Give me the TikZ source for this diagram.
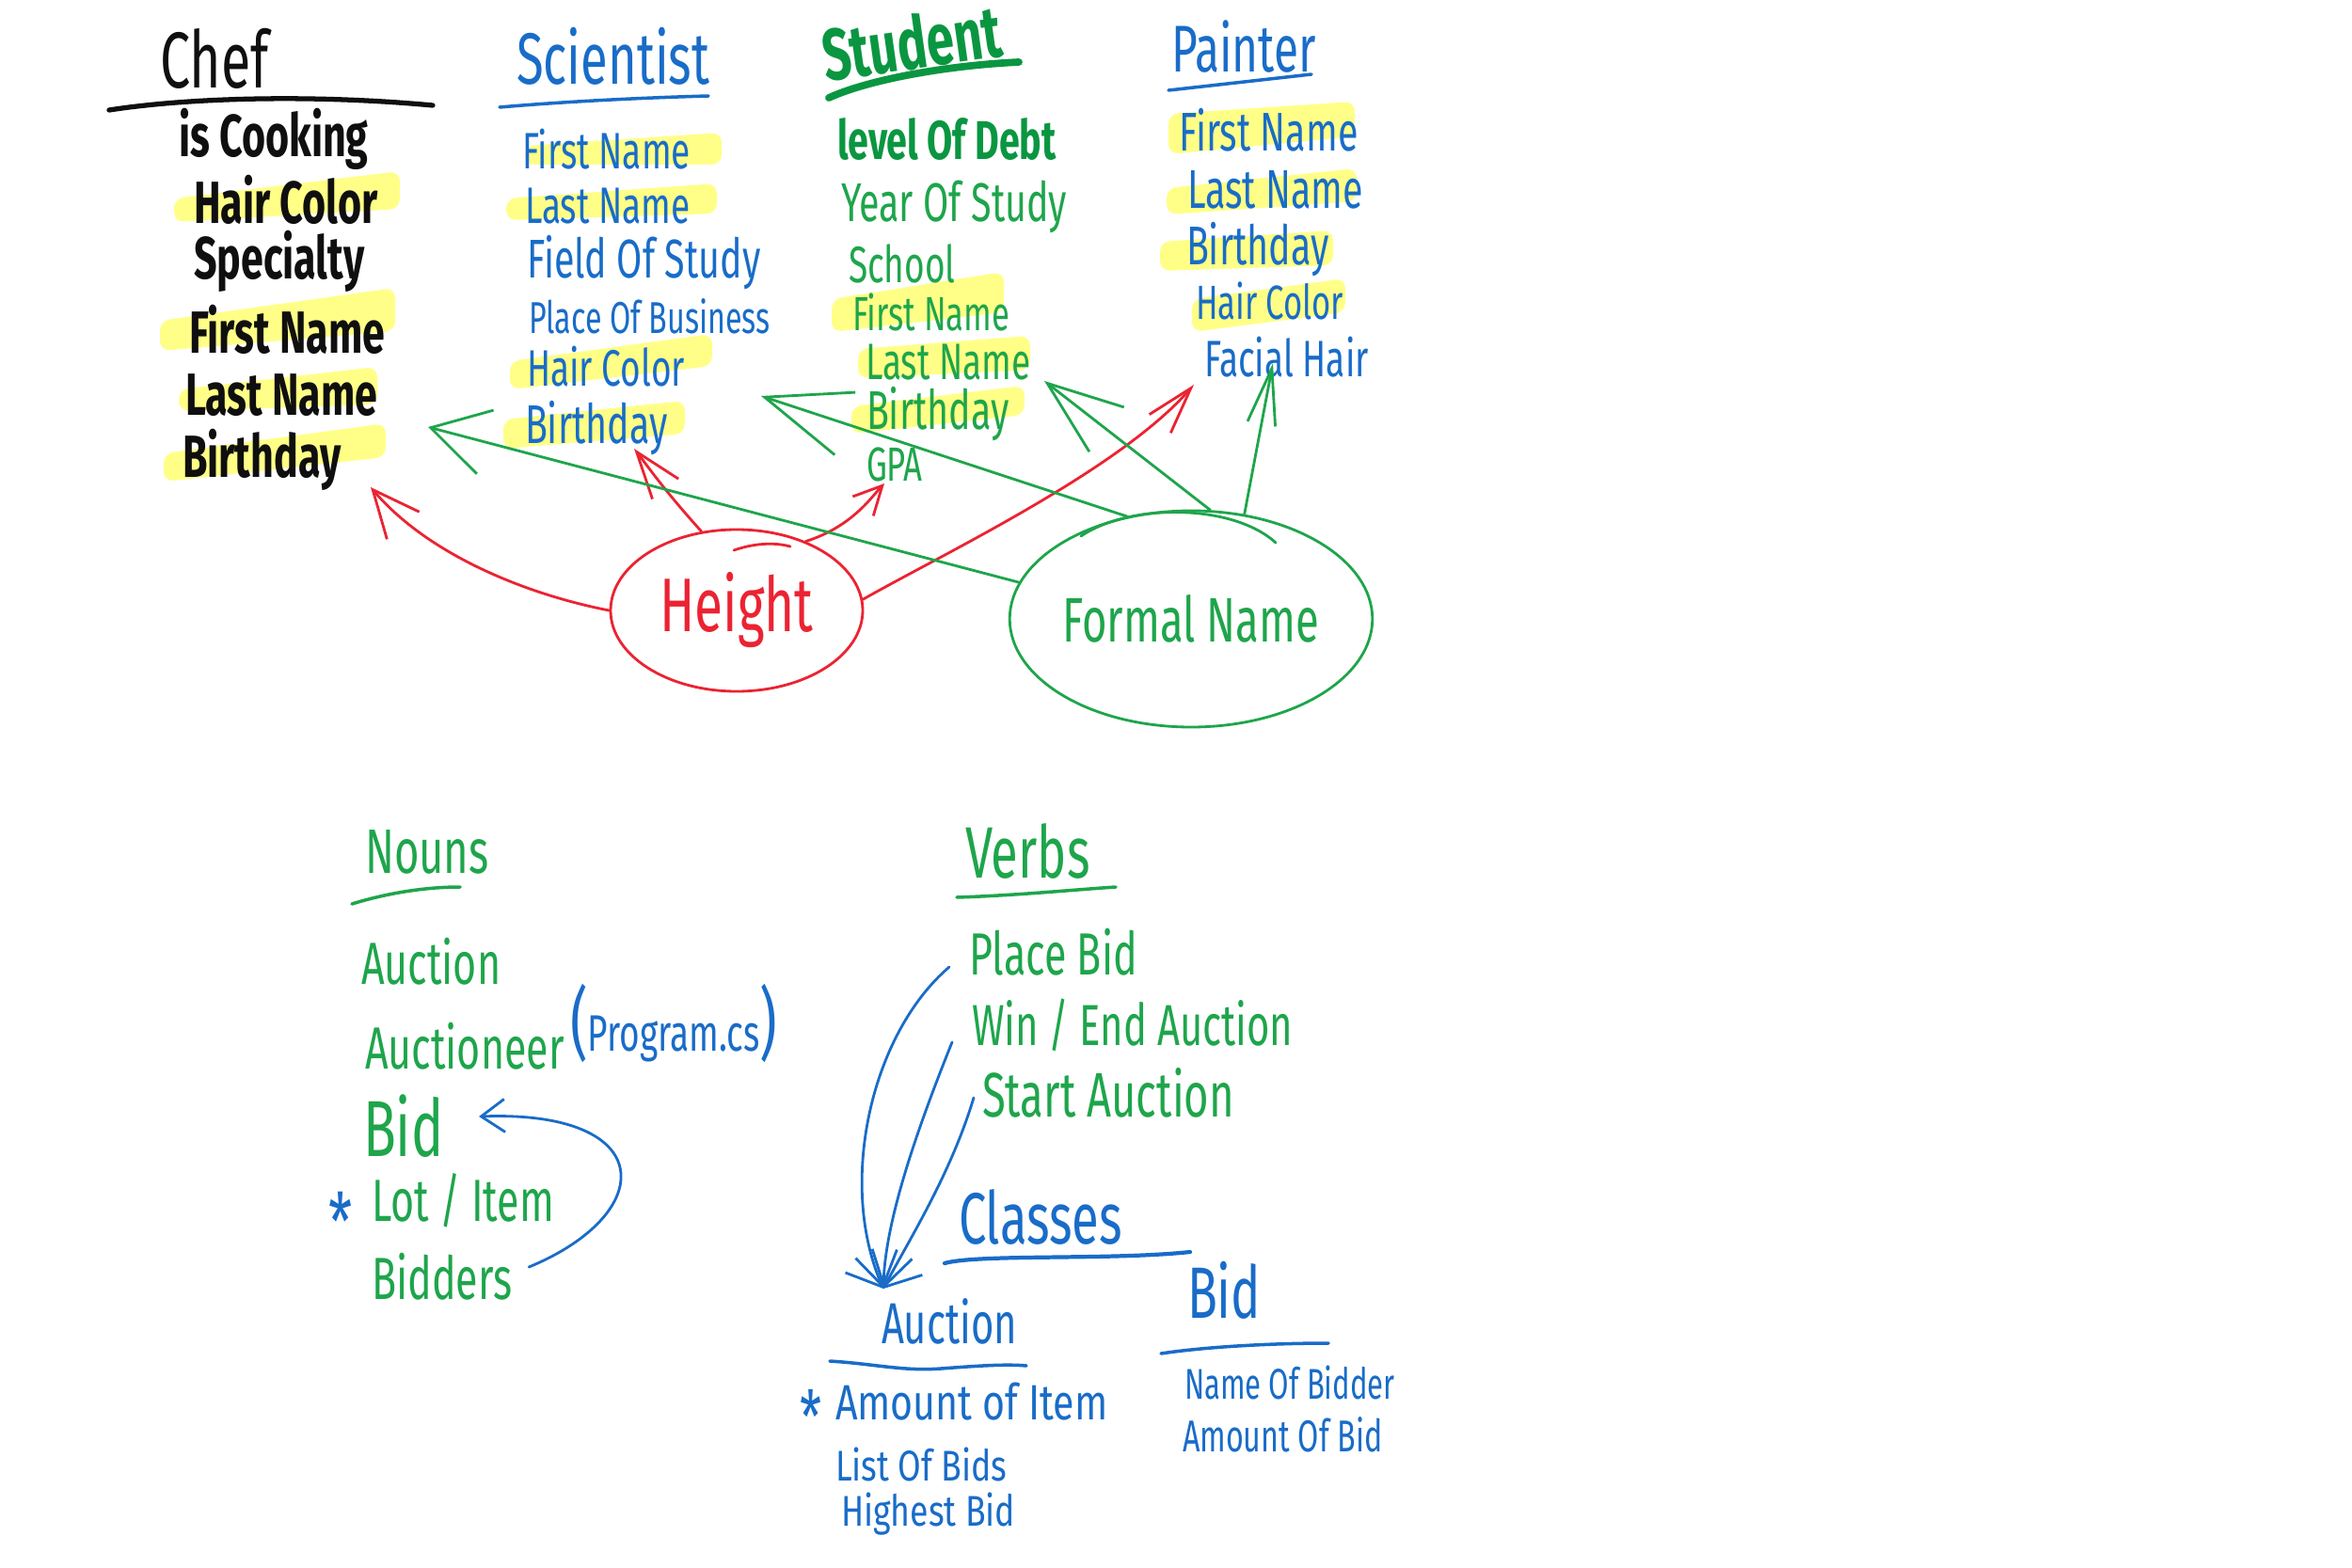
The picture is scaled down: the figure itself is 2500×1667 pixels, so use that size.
\documentclass[tikz,border=0pt]{standalone}
\usepackage{fontspec}
\setmainfont{Fira Sans}[FakeStretch=0.68]
\newfontfamily\widefont{Fira Sans}[FakeStretch=0.78]
\usetikzlibrary{shapes.geometric,arrows.meta,calc}
\definecolor{ink}{RGB}{15,15,15}
\definecolor{bl}{RGB}{25,108,200}
\definecolor{gr}{RGB}{30,165,75}
\definecolor{dg}{RGB}{10,150,65}
\definecolor{rd}{RGB}{235,35,50}
\definecolor{hly}{RGB}{255,255,135}
\newcommand\myfs[1]{\fontsize{#1}{#1}\selectfont}
\tikzset{
  lbl/.style={inner sep=0pt, outer sep=0pt, anchor=west},
  kt/.style={lbl, text=ink, font=\myfs{24}},
  ki/.style={lbl, text=ink, font=\bfseries\myfs{18}},
  bt/.style={lbl, text=bl, font=\myfs{22}},
  bi/.style={lbl, text=bl, font=\myfs{16.5}},
  bw/.style={lbl, text=bl},
  gt/.style={lbl, text=dg, font=\bfseries\myfs{22}},
  gT/.style={lbl, text=gr, font=\myfs{22}},
  gi/.style={lbl, text=gr, font=\myfs{16.5}},
  gb/.style={lbl, text=gr, font=\myfs{18}},
  hl/.style={fill=hly, rounded corners=3pt},
  pen/.style={line width=0.8pt, line cap=round, line join=round},
  redpen/.style={pen, draw=rd},
  grpen/.style={pen, draw=gr},
  blpen/.style={pen, draw=bl},
  ring/.style={ellipse, draw, line width=0.8pt, inner sep=0pt},
}
\begin{document}
\begin{tikzpicture}[x=0.1mm,y=-0.1mm]
\useasboundingbox (0,0) rectangle (2500,1667);
\fill[white] (0,0) rectangle (2500,1667);

% ---------- highlights ----------
\fill[hl] (185,211) -- (425,182) -- (425,222) -- (185,236) -- cycle;
\fill[hl] (170,341) -- (420,306) -- (420,352) -- (170,373) -- cycle;
\fill[hl] (190,414) -- (401,390) -- (401,430) -- (190,437) -- cycle;
\fill[hl] (174,482) -- (410,450) -- (410,486) -- (174,512) -- cycle;
\fill[hl] (558,155) -- (767,141) -- (767,175) -- (558,175) -- cycle;
\fill[hl] (538,211) -- (762,195) -- (762,227) -- (538,234) -- cycle;
\fill[hl] (542,384) -- (757,355) -- (757,389) -- (542,414) -- cycle;
\fill[hl] (535,446) -- (728,426) -- (728,461) -- (535,477) -- cycle;
\fill[hl] (884,318) -- (1067,289) -- (1067,332) -- (884,353) -- cycle;
\fill[hl] (912,371) -- (1095,357) -- (1095,393) -- (912,402) -- cycle;
\fill[hl] (905,432) -- (1089,410) -- (1089,441) -- (905,461) -- cycle;
\fill[hl] (1242,121) -- (1440,108) -- (1440,145) -- (1242,164) -- cycle;
\fill[hl] (1240,200) -- (1442,179) -- (1442,214) -- (1240,228) -- cycle;
\fill[hl] (1233,257) -- (1417,245) -- (1417,282) -- (1233,288) -- cycle;
\fill[hl] (1267,318) -- (1430,296) -- (1430,332) -- (1267,353) -- cycle;

% ---------- Chef ----------
\node[kt] (chef) at (170,62) {Chef};
\draw[ink, line width=1.5pt, line cap=round] (116,117) .. controls (200,104) and (330,100) .. (460,112);
\node[ki] (c1) at (190,148) {is Cooking};
\node[ki] (c2) at (206,212) {Hair Color};
\node[ki] (c3) at (206,278) {Specialty};
\node[ki] (c4) at (201,350) {First Name};
\node[ki] (c5) at (197,420) {Last Name};
\node[ki] (c6) at (194,489) {Birthday};

% ---------- Scientist ----------
\node[bt] (sci) at (549,60) {Scientist};
\draw[bl, line width=1pt, line cap=round] (531,114) .. controls (600,108) and (680,104) .. (753,102);
\node[bi, font=\myfs{15.5}] (s1) at (555,159) {First Name};
\node[bi, font=\myfs{15.5}] (s2) at (558,219) {Last Name};
\node[bi] (s3) at (560,279) {Field Of Study};
\node[bi, font=\myfs{13.5}] (s4) at (562,336) {Place Of Business};
\node[bi, font=\myfs{15.5}] (s5) at (560,390) {Hair Color};
\node[bi] (s6) at (558,455) {Birthday};

% ---------- Student ----------
\node[gt, rotate=8] (stu) at (874,58) {Student};
\draw[dg, line width=2.2pt, line cap=round] (881,104) .. controls (920,86) and (1000,70) .. (1083,66);
\node[gt, font=\bfseries\myfs{16.5}] (t1) at (890,148) {level Of Debt};
\node[gi] (t2) at (894,220) {Year Of Study};
\node[gi, font=\myfs{15.5}] (t3) at (902,280) {School};
\node[gi, font=\myfs{14.5}] (t4) at (906,332) {First Name};
\node[gi, font=\myfs{15.5}] (t5) at (920,385) {Last Name};
\node[gi] (t6) at (921,440) {Birthday};
\node[gi, font=\myfs{14.5}] (t7) at (921,494) {GPA};

% ---------- Painter ----------
\node[bt, font=\myfs{20}] (pai) at (1245,50) {Painter};
\draw[bl, line width=1pt, line cap=round] (1242,96) -- (1394,79);
\node[bi] (p1) at (1253,138) {First Name};
\node[bi] (p2) at (1262,202) {Last Name};
\node[bi] (p3) at (1261,265) {Birthday};
\node[bi, font=\myfs{14.5}] (p4) at (1271,320) {Hair Color};
\node[bi, font=\myfs{15.5}] (p5) at (1280,380) {Facial Hair};

% ---------- ellipses ----------
\node[ring, draw=rd, text=rd, font=\myfs{23}, minimum width=26.8mm, minimum height=17.2mm] (height) at (783,649) {Height};
\draw[redpen] (780,585) .. controls (800,578) and (822,576) .. (840,581);
\node[ring, draw=gr, text=gr, font=\myfs{19}, minimum width=36.4mm, minimum height=23mm] (formal) at (1266,658) {Formal Name};
\draw[grpen] (1149,570) .. controls (1200,535) and (1310,535) .. (1356,577);

% tips
\coordinate (tipC) at (394,518);
\coordinate (tipS) at (674,477);
\coordinate (tipG) at (940,514);
\coordinate (tipP) at (1269,409);
\coordinate (gtip1) at (455,454);
\coordinate (gtip2) at (809,421);
\coordinate (gtip3) at (1110,405);
\coordinate (gtip4) at (1353,386);

% red connectors
\draw[redpen, -{Straight Barb[length=5mm,width=4.5mm]}] (height.west) .. controls (560,632) and (455,590) .. (tipC);
\draw[redpen, -{Straight Barb[length=5mm,width=3.5mm]}] (height.114) .. controls (705,520) and (688,495) .. (tipS);
\draw[redpen, -{Straight Barb[length=3mm,width=3mm]}] (height.45) .. controls (905,560) and (925,530) .. (tipG);
\draw[redpen, -{Straight Barb[length=5mm,width=3mm]}] (height.5) .. controls (1000,590) and (1190,500) .. (tipP);

% green connectors
\draw[grpen, -{Straight Barb[length=6mm,width=7mm]}] (formal.168) -- (gtip1);
\draw[grpen, -{Straight Barb[length=9mm,width=7mm]}] (formal.122) -- (gtip2);
\draw[grpen, -{Straight Barb[length=8mm,width=6mm]}] (formal.80) -- (gtip3);
\draw[grpen, -{Straight Barb[length=6mm,width=3mm]}] (formal.63) -- (gtip4);

% ---------- Nouns ----------
\node[gT, font=\myfs{19}] (nouns) at (388,906) {Nouns};
\draw[gr, line width=1pt, line cap=round] (374,961) .. controls (410,950) and (450,943) .. (489,943);
\node[gb] (n1) at (384,1022) {Auction};
\node[gb] (n2) at (388,1112) {Auctioneer};
\node[lbl, text=bl] (n2b) at (606,1088) {{\myfs{24}(}{\myfs{15.5}Program.cs}{\myfs{24})}};
\node[gb, font=\myfs{24}] (n3) at (386,1197) {Bid};
\node[lbl, text=bl, font=\myfs{24}] (ast1) at (349,1298) {*};
\node[gb] (n4) at (395,1276) {Lot / Item};
\node[gb] (n5) at (395,1357) {Bidders};
\coordinate (bidtip) at (509,1187);
\draw[blpen, -{Straight Barb[length=2.5mm,width=3.5mm]}] ($(n5.east)+(18,-10)$) .. controls (700,1290) and (700,1180) .. (bidtip);

% ---------- Verbs ----------
\node[gT] (verbs) at (1026,905) {Verbs};
\draw[gr, line width=1pt, line cap=round] (1017,954) .. controls (1080,952) and (1140,946) .. (1186,943);
\node[gb] (v1) at (1030,1012) {Place Bid};
\node[gb, font=\myfs{17.5}] (v2) at (1033,1090) {Win / End Auction};
\node[gb, font=\myfs{19}] (v3) at (1044,1162) {Start Auction};

% ---------- Classes ----------
\node[bt] (cls) at (1019,1294) {Classes};
\draw[bl, line width=1.2pt, line cap=round] (1004,1343) .. controls (1040,1333) and (1180,1340) .. (1265,1331);
\node[bi, font=\myfs{17.5}] (aucC) at (937,1405) {Auction};
\node[bi, font=\myfs{22}] (bidC) at (1262,1372) {Bid};
\draw[bl, line width=1pt, line cap=round] (882,1447) .. controls (930,1450) and (960,1458) .. (1000,1455) .. controls (1040,1452) and (1070,1450) .. (1091,1452);
\draw[bl, line width=1pt, line cap=round] (1234,1439) .. controls (1280,1432) and (1350,1428) .. (1412,1428);
\node[lbl, text=bl, font=\myfs{22}] (ast2) at (850,1506) {*};
\node[bw, font=\widefont\myfs{15}] (a1) at (888,1490) {Amount of Item};
\node[bw, font=\widefont\myfs{13}] (a2) at (888,1557) {List Of Bids};
\node[bw, font=\widefont\myfs{13}] (a3) at (894,1610) {Highest Bid};
\node[bi, font=\myfs{13}] (b1) at (1259,1470) {Name Of Bidder};
\node[bi, font=\myfs{13.5}] (b2) at (1257,1525) {Amount Of Bid};

\coordinate (auctip) at (939,1370);
\draw[blpen, -{Straight Barb[length=3mm,width=6mm]}] ($(v1.west)+(-21,16)$) .. controls (925,1100) and (890,1260) .. (auctip);
\draw[blpen, -{Straight Barb[length=3mm,width=6mm]}] ($(v2.west)+(-21,18)$) .. controls (975,1200) and (940,1300) .. (auctip);
\draw[blpen, -{Straight Barb[length=3mm,width=6mm]}] ($(v3.west)+(-9,5)$) .. controls (1010,1250) and (965,1320) .. (auctip);
\end{tikzpicture}
\end{document}
